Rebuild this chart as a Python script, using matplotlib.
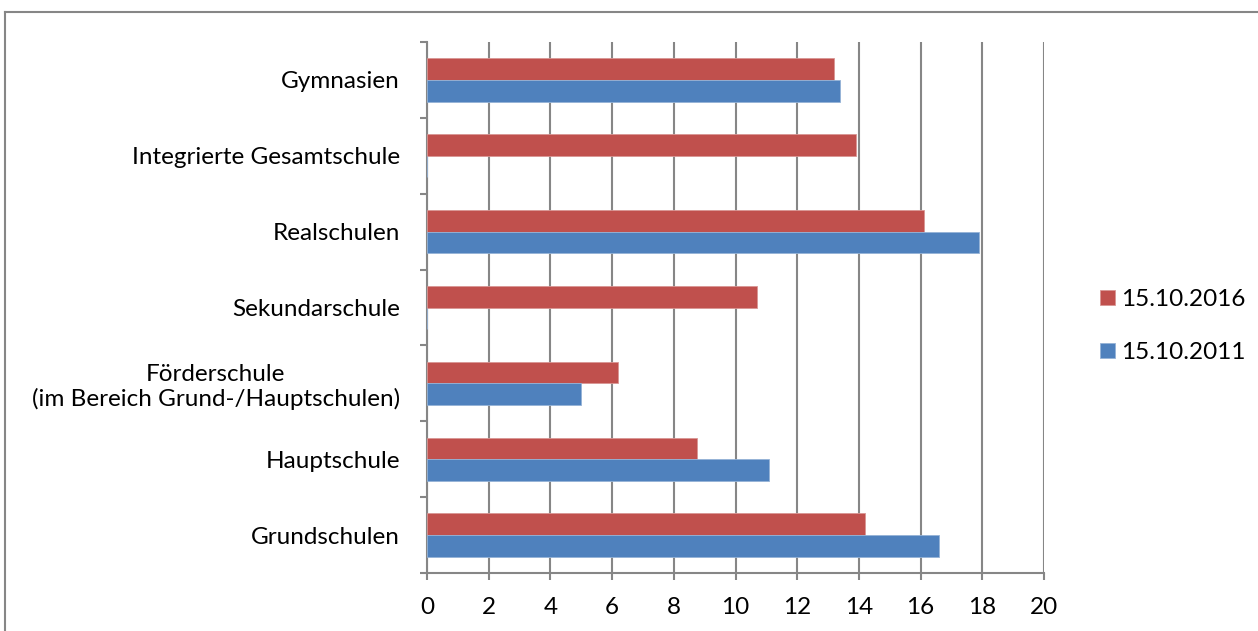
import matplotlib
matplotlib.use("Agg")
import matplotlib.pyplot as plt
from matplotlib.lines import Line2D
import numpy as np

# School types, listed bottom to top
categories = [
    "Grundschulen",
    "Hauptschule",
    "Förderschule\n(im Bereich Grund-/Hauptschulen)",
    "Sekundarschule",
    "Realschulen",
    "Integrierte Gesamtschule",
    "Gymnasien",
]
values_2016 = [14.2, 8.75, 6.2, 10.7, 16.1, 13.9, 13.2]
values_2011 = [16.6, 11.1, 5.0, 0, 17.9, 0, 13.4]
series_labels = ["15.10.2016", "15.10.2011"]
x_ticks = [0, 2, 4, 6, 8, 10, 12, 14, 16, 18, 20]

RED = "#C0504D"
BLUE = "#4F81BD"
GRID = "#868686"
FS = 17.5

plt.rcParams["font.family"] = ["Lato", "DejaVu Sans"]

W, H = 1258, 631
fig = plt.figure(figsize=(W / 100, H / 100), dpi=100)
fig.patch.set_facecolor("white")

ax = fig.add_axes([427 / W, 1 - 573 / H, (1044 - 427) / W, (573 - 42) / H])

y = np.arange(len(categories))
h = 1 / 3.5
ax.barh(y + h / 2, values_2016, height=h, color=RED, edgecolor="#D99694",
        linewidth=0.6, label=series_labels[0], zorder=3)
ax.barh(y - h / 2, values_2011, height=h, color=BLUE, edgecolor="#95B3D7",
        linewidth=0.6, label=series_labels[1], zorder=3)

ax.set_xlim(0, 20)
ax.set_ylim(-0.5, len(categories) - 0.5)
ax.set_xticks(x_ticks)
ax.set_xticklabels([str(v) for v in x_ticks])
ax.set_yticks(y)
ax.set_yticklabels(categories, multialignment="center", linespacing=1.15)
ax.set_yticks(np.arange(-0.5, len(categories)), minor=True)

ax.grid(axis="x", color=GRID, linewidth=1.5, zorder=0)
ax.set_axisbelow(True)

for side in ("top", "right"):
    ax.spines[side].set_visible(False)
for side in ("left", "bottom"):
    ax.spines[side].set_color(GRID)
    ax.spines[side].set_linewidth(1.5)

ax.tick_params(axis="y", which="major", length=0, pad=19.5, labelsize=FS)
ax.tick_params(axis="y", which="minor", length=5, width=1.5, color=GRID, direction="out")
ax.tick_params(axis="x", which="major", length=5, width=1.5, color=GRID,
               direction="out", pad=12, labelsize=FS)

handles, labels = ax.get_legend_handles_labels()
leg = fig.legend(handles, labels, loc="center left",
                 bbox_to_anchor=(1100 / W, 1 - 326 / H), frameon=False,
                 borderpad=0, borderaxespad=0,
                 fontsize=FS, handlelength=0.6, handleheight=0.6,
                 handletextpad=0.25, labelspacing=1.3)

# outer chart frame
fx = 4.5 / W
fy = 1 - 12 / H
fig.add_artist(Line2D([fx, fx], [0, fy], transform=fig.transFigure, color=GRID, linewidth=1.5))
fig.add_artist(Line2D([fx, 1], [fy, fy], transform=fig.transFigure, color=GRID, linewidth=1.5))

fig.savefig("out.png", dpi=100)
